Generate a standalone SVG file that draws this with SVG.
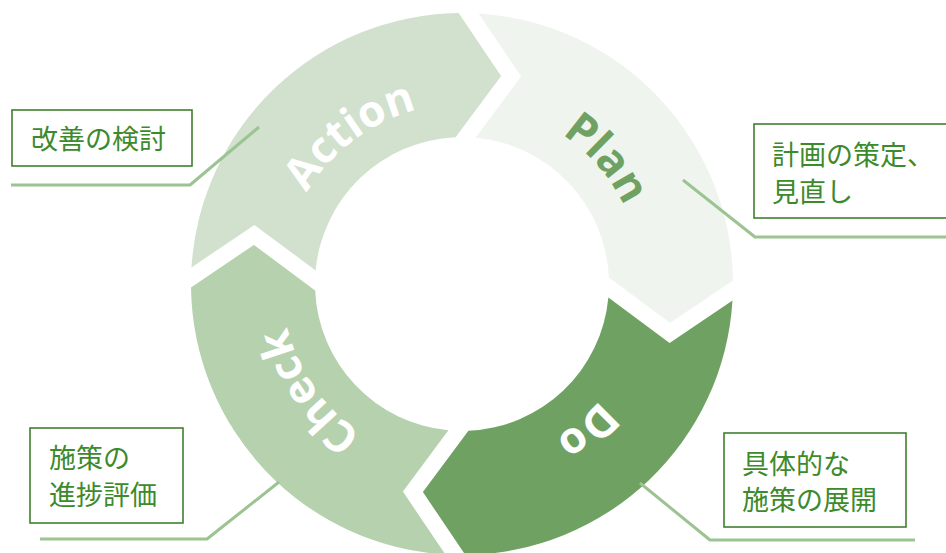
<svg xmlns="http://www.w3.org/2000/svg" width="946" height="553" viewBox="0 0 946 553">
  <defs>
    <style>
      .seg-label { font-family: "Open Sans", "DejaVu Sans", sans-serif; font-weight: bold; font-size: 44px; text-anchor: middle; }
      .note-box { fill: #ffffff; stroke: #3f7f30; stroke-width: 1.6; }
      .note-text { font-family: "Noto Sans CJK JP", "Noto Sans", sans-serif; font-size: 27px; fill: #3d8a2d; }
      .leader { fill: none; stroke: #9cc392; stroke-width: 3; stroke-linejoin: round; }
    </style>
    <!-- One quarter of the ring: notch at its start (top), arrow tip at its end (right) -->
    <path id="quarter" d="M10,-270.82 A271,271 0 0 1 270.82,-10 L209,34 L146.66,-10 A147,147 0 0 0 10,-146.66 L54,-209 Z"/>
    <!-- Clockwise baselines (radius 180 round the ring centre) for the segment labels -->
    <path id="arc-action" d="M283.4,305.9 A180,180 0 0 1 532.3,118.3"/>
    <path id="arc-plan" d="M427.7,107.3 A180,180 0 0 1 632.2,342.6"/>
    <path id="arc-do" d="M639.0,251.2 A180,180 0 0 1 401.9,453.7"/>
    <path id="arc-check" d="M477.7,463.3 A180,180 0 0 1 298.9,207.9"/>
  </defs>

  <!-- Ring of four arrow segments -->
  <g id="ring" transform="translate(462,284) rotate(1.4)">
    <g id="plan-seg"><use href="#quarter" fill="#eff5ee"/></g>
    <g id="do-seg"><use href="#quarter" fill="#6fa262" transform="rotate(90)"/></g>
    <g id="check-seg"><use href="#quarter" fill="#b5d1ad" transform="rotate(180)"/></g>
    <g id="action-seg"><use href="#quarter" fill="#d1e1cd" transform="rotate(270)"/></g>
  </g>

  <!-- Segment labels -->
  <g id="labels">
    <text class="seg-label" fill="#ffffff"><textPath href="#arc-action" startOffset="50%">Action</textPath></text>
    <text class="seg-label" fill="#6fa262"><textPath href="#arc-plan" startOffset="50%">Plan</textPath></text>
    <text class="seg-label" fill="#ffffff"><textPath href="#arc-do" startOffset="50%">Do</textPath></text>
    <text class="seg-label" fill="#ffffff"><textPath href="#arc-check" startOffset="50%">Check</textPath></text>
  </g>

  <!-- Leader lines -->
  <g id="connectors">
    <polyline class="leader" points="11,185 190,185 259,127"/>
    <polyline class="leader" points="683,180 755,237 946,237"/>
    <polyline class="leader" points="40,539 207,539 279,482"/>
    <polyline class="leader" points="640,483 710,540 915,540"/>
  </g>

  <!-- Callout notes -->
  <g id="note-action">
    <rect class="note-box" x="12" y="110" width="180" height="56"/>
    <text class="note-text" x="31" y="149">改善の検討</text>
  </g>
  <g id="note-plan">
    <rect class="note-box" x="754" y="124" width="200" height="94"/>
    <text class="note-text" x="772" y="165">計画の策定、</text>
    <text class="note-text" x="772" y="202">見直し</text>
  </g>
  <g id="note-check">
    <rect class="note-box" x="30" y="428" width="153" height="95"/>
    <text class="note-text" x="49" y="468">施策の</text>
    <text class="note-text" x="49" y="505">進捗評価</text>
  </g>
  <g id="note-do">
    <rect class="note-box" x="724" y="433" width="182" height="94"/>
    <text class="note-text" x="742" y="474">具体的な</text>
    <text class="note-text" x="742" y="510">施策の展開</text>
  </g>
</svg>
